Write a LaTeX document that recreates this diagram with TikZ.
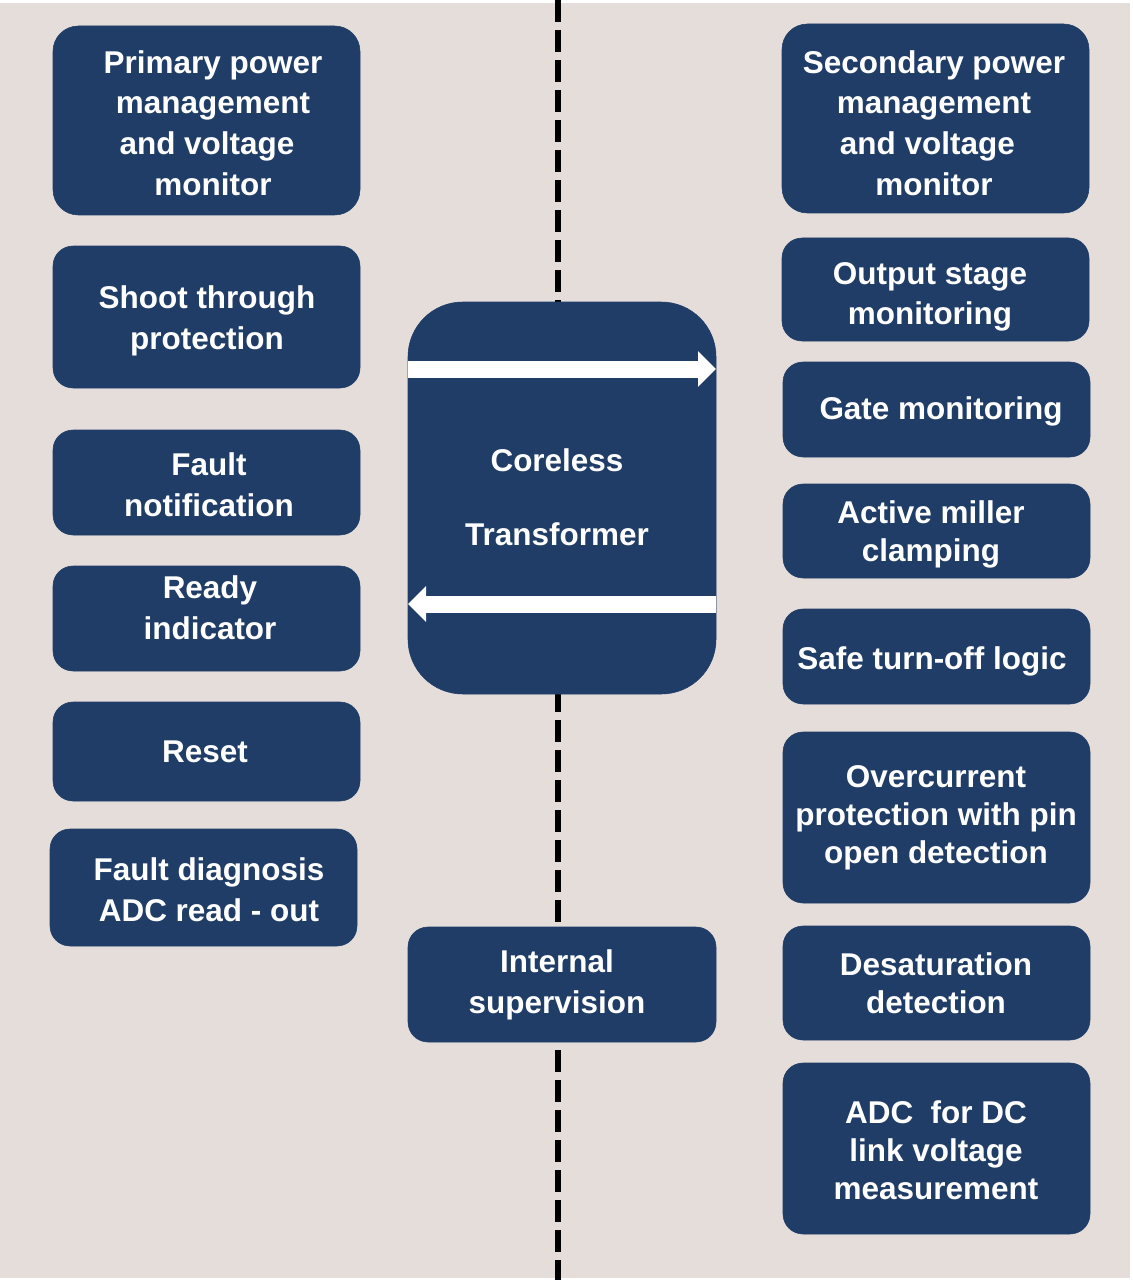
\documentclass[tikz,border=0pt]{standalone}
\usepackage{fontspec}
\setmainfont{Liberation Sans}
\usetikzlibrary{fit,arrows.meta}
\definecolor{boxblue}{RGB}{31,61,102}
\definecolor{bgcol}{RGB}{228,221,218}
\begin{document}
\begin{tikzpicture}[x=0.75pt,y=-0.75pt,
  box/.style={fill=boxblue, draw=boxblue, rounded corners=15pt, inner sep=0pt},
  bigbox/.style={box, rounded corners=19pt},
  corebox/.style={box, rounded corners=41pt},
  txt/.style={text=white, font=\fontsize{23.6}{30.5}\selectfont\bfseries, align=center, inner sep=0pt},
  txtn/.style={txt, font=\fontsize{23.6}{28.5}\selectfont\bfseries},
  sepline/.style={line width=4.5pt, dash pattern=on 16.5pt off 6pt},
  flow/.style={white, line width=12.75pt, -{Triangle[length=13.5pt,width=26pt]}}]
\fill[white] (0,0) rectangle (1132,1280);
\fill[bgcol] (0,3) rectangle (1130,1278);
\useasboundingbox (0,0) rectangle (1132,1280);
% separator
\coordinate (dtop) at (558,0);
\coordinate (dbot) at (558,1280);
\draw[sepline] (dtop) -- (dbot);
% left column
\node[bigbox, fit={(53,26) (360,215)}] (L1) {};
\node[txt] (L1t) at (213,123) {Primary power\\management\\and voltage\rule{9pt}{0pt}\\monitor};
\node[box, fit={(53,246) (360,388)}] (L2) {};
\node[txt] (L2t) at (207,321) {Shoot through\\protection};
\node[box, fit={(53,430) (360,535)}] (L3) {};
\node[txt] (L3t) at (209,485) {Fault\\notification};
\node[box, fit={(53,566) (360,671)}] (L4) {};
\node[txt] (L4t) at (210,608) {Ready\\indicator};
\node[box, fit={(53,702) (360,801)}] (L5) {};
\node[txt] (L5t) at (205,752) {Reset};
\node[box, fit={(50,829) (357,946)}] (L6) {};
\node[txt] (L6t) at (209,890) {Fault diagnosis\\ADC read - out};
% centre
\node[corebox, fit={(408,302) (716,694)}] (C1) {};
\node[txt] (C1t) at (557,497) {Coreless\\[25pt]Transformer};
\coordinate (a1s) at (408,369);
\coordinate (a1e) at (716,369);
\coordinate (a2s) at (716,604);
\coordinate (a2e) at (408,604);
\draw[flow] (a1s) -- (a1e);
\draw[flow] (a2s) -- (a2e);
\node[box, fit={(408,927) (716,1042)}] (C2) {};
\node[txt] (C2t) at (557,985) {Internal\\supervision};
% right column
\node[bigbox, fit={(782,24) (1089,213)}] (R1) {};
\node[txt] (R1t) at (934,123) {Secondary power\\management\\and voltage\rule{10pt}{0pt}\\monitor};
\node[box, fit={(782,238) (1089,341)}] (R2) {};
\node[txt] (R2t) at (930,297) {Output stage\\monitoring};
\node[box, fit={(783,362) (1090,457)}] (R3) {};
\node[txt] (R3t) at (941,411) {Gate monitoring};
\node[box, fit={(783,484) (1090,578)}] (R4) {};
\node[txtn] (R4t) at (931,534) {Active miller\\clamping};
\node[box, fit={(783,609) (1090,704)}] (R5) {};
\node[txt] (R5t) at (932,661) {Safe turn-off logic};
\node[box, fit={(783,732) (1090,903)}] (R6) {};
\node[txtn] (R6t) at (936,818) {Overcurrent\\protection with pin\\open detection};
\node[box, fit={(783,926) (1090,1040)}] (R7) {};
\node[txtn] (R7t) at (936,983) {Desaturation\\detection};
\node[box, fit={(783,1063) (1090,1234)}] (R8) {};
\node[txtn] (R8t) at (936,1150) {ADC~~for DC\\link voltage\\measurement};
\end{tikzpicture}
\end{document}
